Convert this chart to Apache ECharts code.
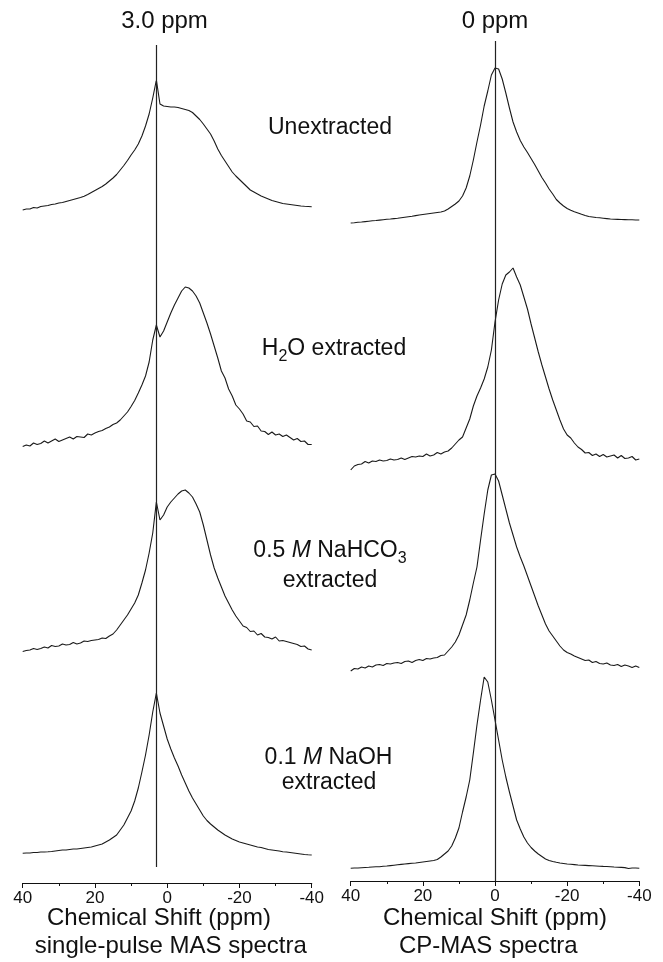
<!DOCTYPE html>
<html><head><meta charset="utf-8">
<script src="https://cdn.jsdelivr.net/npm/echarts@6/dist/echarts.min.js"></script>
<style>html,body{margin:0;padding:0;background:#fff}#c{width:663px;height:962px}</style>
</head><body><div id="c"></div>
<script>
// Chemical shift sampling grid (ppm), 40 -> -40
const ppm = [40,39,38,37,36,35,34,33,32,31,30,29,28,27,26,25,24,23,22,21,20,19,18,17,16,15,14,13,12,11,10,9,8,7,6,5,4,3,2,1,0,
  -1,-2,-3,-4,-5,-6,-7,-8,-9,-10,-11,-12,-13,-14,-15,-16,-17,-18,-19,-20,-21,-22,-23,-24,-25,-26,-27,-28,-29,-30,
  -31,-32,-33,-34,-35,-36,-37,-38,-39,-40];

// Single-pulse MAS spectra (intensity, a.u.)
const spUnextracted = [2,3,3,4.5,4,5.5,6,6.5,7.5,8,
  9,9.5,10.5,11.5,12.5,13.5,14.5,15.7,17.5,19.5,
  21.5,23.5,25.5,28,31,34,37.5,42,46.5,51.5,
  57,62,68,76,86,98,114,132,108,106,
  105.5,105,105,104.5,103.5,102.5,101.5,99.5,96,92.5,
  88,83,78,71,63,56.5,51,45.5,40,36,
  32.5,29,25.5,22,20,18,16,14.5,13,11.5,
  10.5,9.5,8.5,8,7.5,7,6.5,6,5.7,5.5,
  5.3];
const spH2O = [1.5,3,2,5,3.5,4.5,7,5,7,9,
  6.5,8,9.5,11,9,11.5,11,10.5,14,13,
  15,16.5,17.5,19.5,21,23.5,25,28,32,36,
  41.5,47.5,55,63,72,86,108,123,111,117,
  126,135,143,150,157,161,160,157,152,145,
  135,125,114,102,90,77,70,59,52,43,
  39,34,27,26,21.5,22,17,16.5,13.5,16,
  13,14,11.5,13,10.5,8,9.5,6.5,7,3.5,
  3.5];
const spNaHCO3 = [1.5,2.5,3,4.5,3.5,4.5,6,5,7.5,6.5,
  7,9,8,8.5,10.5,9,10,12,11.5,12.5,
  13,13.5,15,14.5,17,19,23,28,33,38,
  44,50,58,70,83,100,120,151,133,138,
  146,151,155,159,162,163,160,156,149,141,
  128,113,98,85,75,66,57,50,43,37,
  32,27,25.5,21.5,22,18,19.5,16,15.5,14,
  16,12,12.5,11.5,10.5,9.5,8.5,6.5,7,4,
  3];
const spNaOH = [2.7,3,3,3.5,3.5,4,4,4.2,4.5,5,
  5.5,6,6,6.5,7,7,7.5,8,8.5,9,
  10,11,12,14,16,18.5,21,26,31,38,
  45,55,68,84,101,121,144,163,143,130,
  117,107,98,90,81,73,65,58,52,46,
  40,35.5,32,29,26,23.5,21,19,17,15.5,
  14,13,12,11,10,9,8.5,7.5,6.5,6,
  5.5,5,4.3,4,3.5,3,2.5,2,1.5,1.2,
  1];

// CP-MAS spectra (intensity, a.u.)
const cpUnextracted = [1,1.3,1.7,2,2.4,2.8,3.2,3.5,3.9,4.3,
  4.7,5,5.4,5.8,6.3,6.8,7.3,7.8,8.4,9,
  9.5,10,10.5,11,11.5,12,13,15,17.5,20,
  23,28,36,48,64,82,99,118,133,149,
  156,155,145,131,116,102,92,83.5,77,71.5,
  65.5,59.5,53,46.5,41,35,30,24.5,21,18,
  15.5,13.7,12.2,11,9.7,8.5,7.5,7,6.5,6.2,
  5.8,5.4,5,4.7,4.6,4.5,4.4,4.3,4.2,4,
  4];
const cpH2O = [1,5,6.5,7,9.5,8,10,9.5,11,10,
  10.5,12,11,11.5,13,11.5,13,14.5,14,15,
  14.5,17,15,16,18.5,17,19,20,23,27,
  31,34,43,52,65,75,83,92,104,121,
  149,171,187,196,199,203,194,186,174,162,
  147,133,119,106,94,82,71,61,51,42,
  36,33,28,24,21.5,18,18.5,15.5,17,14.5,
  16.5,14,15,16,13,15.5,12.5,13,14.5,11,
  12];
const cpNaHCO3 = [1,3.5,3,5,4,6,5,7,7.5,6.5,
  8.5,8,9,9.5,8.5,10.5,11,9.5,11.5,12.5,
  11.5,13.5,13,14,14.5,16.5,17,21,25,30,
  37,47,57,72,89,105,132,158,182,197,
  198,191,177,163,149,137,125,115,106,96,
  86,76,66,57,48,41,36,31,26,22,
  19.5,18,16,14.5,13,11.5,12,9.5,10.5,8.5,
  8,9,7,6.5,7.5,5.5,7,6,4.5,6,
  4.5];
const cpNaOH = [1.7,2,2,2.3,2.5,2.7,3,3.2,3.3,3.7,
  4,4.4,4.8,5.2,5.6,6,6.4,6.7,7,7.5,
  8,8.5,9,9.5,10.5,13,16,19,24,32,
  42,58,73,90,117,145,170,193,188,170,
  150,130,110,93,78,64,50,41,33,27,
  22.5,19,16,13.5,11,9.5,8.5,7.7,7,6.5,
  6,5.7,5.4,5,4.8,4.6,4.4,4.2,4,3.8,
  3.6,3.5,3.3,3,2.8,2.6,2.4,1.5,2,2,
  1.7];

// Reference positions (ppm)
const refLeft = 3.0;
const refRight = 0;
const xTickValues = [40, 20, 0, -20, -40];
const xTickLabels = ['40','20','0','-20','-40'];

// ---- layout ----
const FONT = '"Liberation Sans", Arial, Helvetica, sans-serif';
const leftOffsets = [671, 435, 230, 27];
const rightOffsets = [657, 410, 209, 11];
const spSets = [spUnextracted, spH2O, spNaHCO3, spNaOH];
const cpSets = [cpUnextracted, cpH2O, cpNaHCO3, cpNaOH];

function mk(vals, off) { return ppm.map((p, i) => [p, vals[i] + off]); }

function xAxisFor(gi) {
  return {
    type: 'value', gridIndex: gi, min: -40, max: 40, interval: 20, inverse: true,
    axisLine: { show: true, onZero: false, lineStyle: { color: '#111', width: 1.2 } },
    axisTick: { show: true, length: 5, lineStyle: { color: '#111', width: 1 } },
    minorTick: { show: true, splitNumber: 2, length: 3, lineStyle: { color: '#111', width: 1 } },
    splitLine: { show: false },
    axisLabel: { fontSize: 17, color: '#111', margin: 7, fontFamily: FONT,
      formatter: v => xTickLabels[xTickValues.indexOf(v)] }
  };
}
function yAxisFor(gi, max) {
  return { type: 'value', gridIndex: gi, min: 0, max: max, show: false,
    axisLine: { show: false }, splitLine: { show: false } };
}

const series = [];
spSets.forEach((vals, k) => {
  series.push({ type: 'line', xAxisIndex: 0, yAxisIndex: 0, data: mk(vals, leftOffsets[k]),
    showSymbol: false, symbol: 'none', lineStyle: { color: '#1a1a1a', width: 1.1 }, silent: true,
    markLine: k === 0 ? { symbol: 'none', silent: true, label: { show: false },
      lineStyle: { color: '#222', width: 1.2, type: 'solid' },
      data: [[{ coord: [refLeft, 16] }, { coord: [refLeft, 838] }]] } : undefined });
});
cpSets.forEach((vals, k) => {
  series.push({ type: 'line', xAxisIndex: 1, yAxisIndex: 1, data: mk(vals, rightOffsets[k]),
    showSymbol: false, symbol: 'none', lineStyle: { color: '#1a1a1a', width: 1.1 }, silent: true,
    markLine: k === 0 ? { symbol: 'none', silent: true, label: { show: false },
      lineStyle: { color: '#222', width: 1.2, type: 'solid' },
      data: [[{ coord: [refRight, 0] }, { coord: [refRight, 840] }]] } : undefined });
});

function txt(x, y, text, size, rich) {
  return { type: 'text', x: x, y: y, silent: true,
    style: { text: text, fontSize: size, fontFamily: FONT, fill: '#111',
      align: 'center', verticalAlign: 'middle', textAlign: 'center', textVerticalAlign: 'middle',
      rich: rich } };
}
const richMain = {
  n: { fontSize: 23, fontFamily: FONT, color: '#111', lineHeight: 40 },
  i: { fontSize: 23, fontFamily: FONT, color: '#111', fontStyle: 'italic', lineHeight: 40 },
  s: { fontSize: 16, fontFamily: FONT, color: '#111', lineHeight: 16, padding: [16, 0, 0, 0] }
};

const option = {
  animation: false,
  backgroundColor: '#fff',
  grid: [
    { left: 22.7, top: 43, width: 289, height: 840 },
    { left: 350.7, top: 41, width: 288.6, height: 840 }
  ],
  xAxis: [xAxisFor(0), xAxisFor(1)],
  yAxis: [yAxisFor(0, 840), yAxisFor(1, 840)],
  series: series,
  graphic: { elements: [
    txt(164.5, 21, '3.0 ppm', 24),
    txt(495, 21, '0 ppm', 24),
    txt(330, 127.5, '{n|Unextracted}', 23, richMain),
    txt(334, 349, '{n|H}{s|2}{n|O extracted}', 23, richMain),
    txt(330, 550.5, '{n|0.5 }{i|M}{n| NaHCO}{s|3}', 23, richMain),
    txt(330, 581, '{n|extracted}', 23, richMain),
    txt(328.5, 757.5, '{n|0.1 }{i|M}{n| NaOH}', 23, richMain),
    txt(329, 783, '{n|extracted}', 23, richMain),
    txt(159, 918.5, 'Chemical Shift (ppm)', 24),
    txt(495, 918.5, 'Chemical Shift (ppm)', 24),
    txt(170.8, 946.5, 'single-pulse MAS spectra', 24),
    txt(488.3, 946.5, 'CP-MAS spectra', 24)
  ] }
};
echarts.init(document.getElementById('c'), null, { renderer: 'canvas' }).setOption(option);
</script></body></html>
